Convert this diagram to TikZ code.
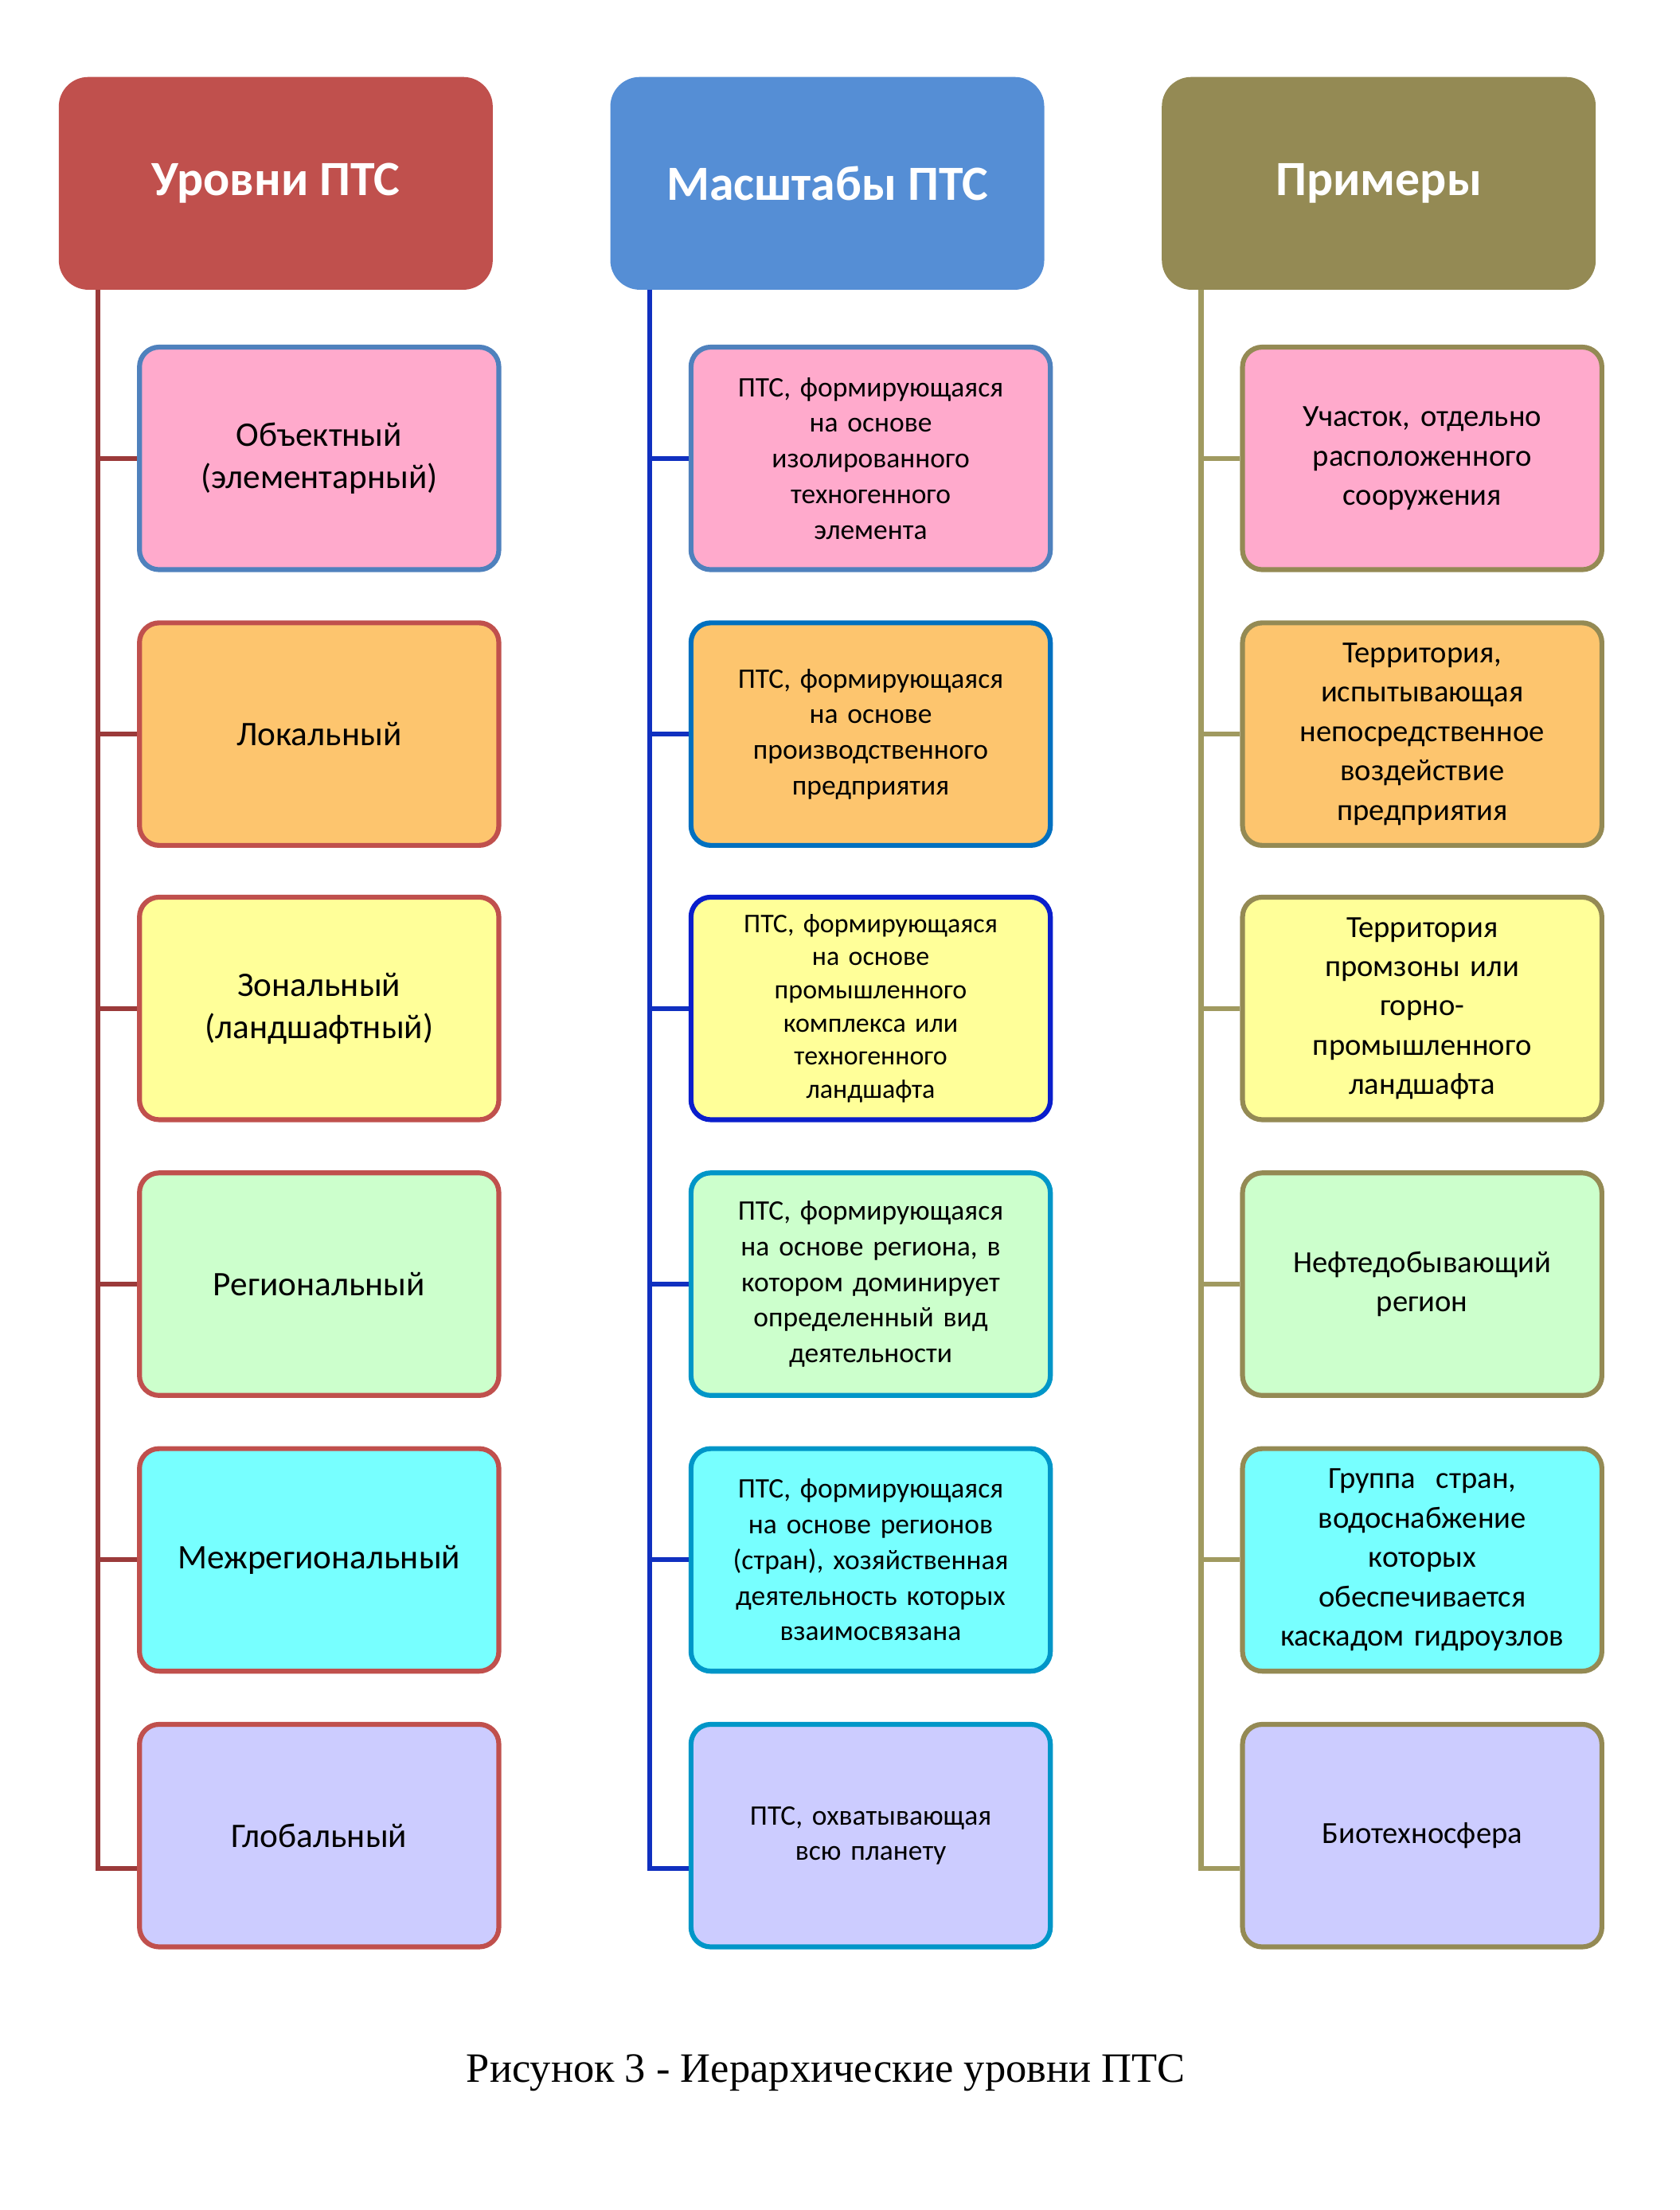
\documentclass[tikz,border=0pt]{standalone}
\usepackage{fontspec}
\setmainfont{Carlito}
\newfontfamily\capfont{Liberation Serif}
\begin{document}
\begin{tikzpicture}[x=0.02cm,y=-0.02cm,
  hdr/.style={draw=none,rounded corners=12pt,minimum width=310*0.02cm,minimum height=152*0.02cm,text=white,font=\bfseries\fontsize{20}{24}\selectfont},
  bx/.style={line width=2pt,rounded corners=8pt,minimum width=254*0.02cm,minimum height=159*0.02cm,align=center,text width=245*0.02cm},
  t1/.style={bx,font=\fontsize{14}{17}\selectfont},
  t2/.style={bx,font=\fontsize{11.5}{14.5}\selectfont},
  tree/.style={line width=2pt}]
\useasboundingbox (0,0) rectangle (1200,1579);
\definecolor{cA}{HTML}{C0504D}\definecolor{cB}{HTML}{558ED5}\definecolor{cC}{HTML}{948A54}
\definecolor{fa}{HTML}{FFAACC}\definecolor{fb}{HTML}{FDC56E}\definecolor{fc}{HTML}{FFFF99}
\definecolor{fd}{HTML}{CCFFCC}\definecolor{fe}{HTML}{77FFFF}\definecolor{ff}{HTML}{CCCCFF}
\definecolor{bA}{HTML}{4F81BD}\definecolor{bB}{HTML}{0070C0}\definecolor{bC}{HTML}{0A1ECC}\definecolor{bD}{HTML}{0096C8}
\definecolor{lA}{HTML}{9B3A3A}\definecolor{lB}{HTML}{1030C0}\definecolor{lC}{HTML}{A09A60}
\node[hdr,fill=cA] (h1) at (197,131) {Уровни ПТС};
\node[hdr,fill=cB] (h2) at (591,131) {Масштабы ПТС};
\node[hdr,fill=cC] (h3) at (985,131) {Примеры};
\foreach \i/\f in {1/fa,2/fb,3/fc,4/fd,5/fe,6/ff}{\colorlet{f\i}{\f}}
% column 1
\node[t1,draw=bA,fill=fa] (a1) at (228,327.5) {Объектный\\(элементарный)};
\node[t1,draw=cA,fill=fb] (a2) at (228,524.5) {Локальный};
\node[t1,draw=cA,fill=fc] (a3) at (228,720.5) {Зональный\\(ландшафтный)};
\node[t1,draw=cA,fill=fd] (a4) at (228,917.5) {Региональный};
\node[t1,draw=cA,fill=fe] (a5) at (228,1114.5) {Межрегиональный};
\node[t1,draw=cA,fill=ff] (a6) at (228,1311.5) {Глобальный};
% column 2
\node[t2,draw=bA,fill=fa] (b1) at (622,327.5) {ПТС, формирующаяся\\на основе\\изолированного\\техногенного\\элемента};
\node[t2,draw=bB,fill=fb] (b2) at (622,524.5) {ПТС, формирующаяся\\на основе\\производственного\\предприятия};
\node[t2,draw=bC,fill=fc,font=\fontsize{11}{13.5}\selectfont] (b3) at (622,720.5) {ПТС, формирующаяся\\на основе\\промышленного\\комплекса или\\техногенного\\ландшафта};
\node[t2,draw=bD,fill=fd] (b4) at (622,917.5) {ПТС, формирующаяся\\на основе региона, в\\котором доминирует\\определенный вид\\деятельности};
\node[t2,draw=bD,fill=fe] (b5) at (622,1114.5) {ПТС, формирующаяся\\на основе регионов\\(стран), хозяйственная\\деятельность которых\\взаимосвязана};
\node[t2,draw=bD,fill=ff] (b6) at (622,1311.5) {ПТС, охватывающая\\всю планету};
% column 3
\node[t2,draw=cC,fill=fa,font=\fontsize{12.5}{16}\selectfont] (c1) at (1016,327.5) {Участок, отдельно\\расположенного\\сооружения};
\node[t2,draw=cC,fill=fb,font=\fontsize{12.5}{16}\selectfont] (c2) at (1016,524.5) {Территория,\\испытывающая\\непосредственное\\воздействие\\предприятия};
\node[t2,draw=cC,fill=fc,font=\fontsize{12.5}{16}\selectfont] (c3) at (1016,720.5) {Территория\\промзоны или\\горно-\\промышленного\\ландшафта};
\node[t2,draw=cC,fill=fd,font=\fontsize{12.5}{16}\selectfont] (c4) at (1016,917.5) {Нефтедобывающий\\регион};
\node[t2,draw=cC,fill=fe,font=\fontsize{12.5}{16}\selectfont] (c5) at (1016,1114.5) {Группа\ \ стран,\\водоснабжение\\которых\\обеспечивается\\каскадом гидроузлов};
\node[t2,draw=cC,fill=ff,font=\fontsize{12.5}{16}\selectfont] (c6) at (1016,1311.5) {Биотехносфера};
% trees
\coordinate (ta) at (70,207); \coordinate (tb) at (464,207); \coordinate (tc) at (858,207);
\draw[tree,lA] (ta) -- (70,1335) -- (a6.west|-70,1335);
\draw[tree,lB] (tb) -- (464,1335) -- (b6.west|-464,1335);
\draw[tree,lC] (tc) -- (858,1335) -- (c6.west|-858,1335);
\foreach \k in {1,...,5}{
  \draw[tree,lA] (70,0|-a\k.west) -- (a\k.west);
  \draw[tree,lB] (464,0|-b\k.west) -- (b\k.west);
  \draw[tree,lC] (858,0|-c\k.west) -- (c\k.west);
}
\node[font=\capfont\fontsize{17}{20}\selectfont] (cap) at (590,1481) {Рисунок 3 - Иерархические уровни ПТС};
\end{tikzpicture}
\end{document}
